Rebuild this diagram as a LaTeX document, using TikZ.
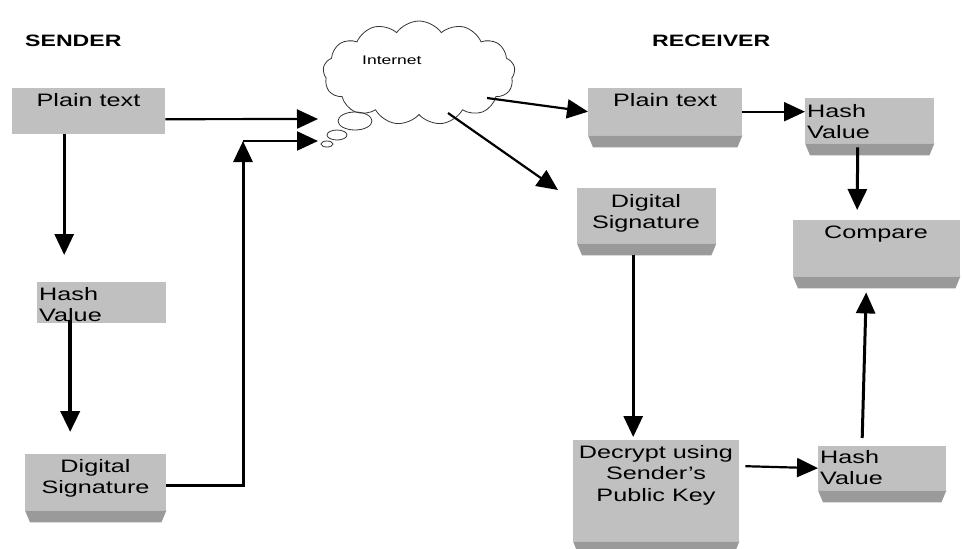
\documentclass[tikz,border=0pt]{standalone}
\usepackage{fontspec}
\setmainfont{Liberation Sans}[FakeStretch=1.4]
\usetikzlibrary{arrows.meta,shapes.symbols,shapes.geometric,calc}
\definecolor{boxgray}{HTML}{C0C0C0}
\definecolor{bevgray}{HTML}{9A9A9A}
\newcommand\mybevel[1]{\fill[bevgray] (#1.south west) -- (#1.south east) -- ([shift={(-5pt,-12pt)}]#1.south east) -- ([shift={(5pt,-12pt)}]#1.south west) -- cycle;}
\begin{document}
\begin{tikzpicture}[x=1pt,y=-1pt,
  box/.style={fill=boxgray, draw=none, inner sep=0pt, anchor=north west},
  lbl/.style={font=\fontsize{18}{21.5}\selectfont, align=center, inner sep=0pt, anchor=north},
  lbll/.style={font=\fontsize{18}{21.5}\selectfont, align=left, inner sep=0pt, anchor=north west},
  head/.style={font=\bfseries\fontsize{16.5}{20}\selectfont, inner sep=0pt, anchor=north west},
  arr/.style={-{Triangle[length=21pt,width=19pt]}, line width=2.2pt},
  varr/.style={arr, line width=3pt},
  bub/.style={ellipse, draw=black!80, line width=0.8pt, inner sep=0pt}]
\useasboundingbox (0,0) rectangle (962,549);

% headings
\node[head] (hs) at (25,35) {SENDER};
\node[head] (hr) at (652,35) {RECEIVER};

% cloud
\node[cloud, draw=black!80, line width=0.8pt, cloud puffs=13, cloud puff arc=110,
      aspect=1.85, minimum width=192pt, minimum height=104pt, inner sep=0pt] (net) at (419,73) {};
\node[font=\fontsize{12.5}{15}\selectfont, inner sep=0pt, anchor=north west] (tnet) at (362,56) {Internet};
\node[bub, minimum width=34pt, minimum height=18pt] (b1) at (355,121) {};
\node[bub, minimum width=20pt, minimum height=10pt] (b2) at (337,135) {};
\node[bub, minimum width=12pt, minimum height=6pt] (b3) at (327,144) {};
\coordinate (in1) at (318,119);
\coordinate (in2) at (318,141);
\coordinate (j) at (243,141);
\coordinate (c1) at (487,98);
\coordinate (c2) at (448,113);

% sender boxes
\node[box, minimum width=153pt, minimum height=46pt] (spt) at (12,88) {};
\node[lbl] (tspt) at (88.5,93) {Plain text};
\node[box, minimum width=129pt, minimum height=41pt] (shv) at (37,282) {};
\node[lbll] (tshv) at (39,287) {Hash\\Value};
\node[box, minimum width=141pt, minimum height=56pt] (sds) at (25,454) {};
\mybevel{sds}
\node[lbl] (tsds) at (95.5,459) {Digital\\Signature};

% receiver boxes
\node[box, minimum width=154pt, minimum height=47pt] (rpt) at (588,88) {};
\mybevel{rpt}
\node[lbl] (trpt) at (665,93) {Plain text};
\node[box, minimum width=129pt, minimum height=45pt] (rh1) at (805,98) {};
\mybevel{rh1}
\node[lbll] (trh1) at (807,104) {Hash\\Value};
\node[box, minimum width=139pt, minimum height=55pt] (rds) at (577,188) {};
\mybevel{rds}
\node[lbl] (trds) at (646,194) {Digital\\Signature};
\node[box, minimum width=167pt, minimum height=56pt] (cmp) at (793,220) {};
\mybevel{cmp}
\node[lbl] (tcmp) at (876,226) {Compare};
\node[box, minimum width=166pt, minimum height=101pt] (dec) at (573,440) {};
\mybevel{dec}
\node[lbl] (tdec) at (656,445) {Decrypt using\\Sender's\\Public Key};
\node[box, minimum width=128pt, minimum height=44pt] (rh2) at (818,446) {};
\mybevel{rh2}
\node[lbll] (trh2) at (820,450) {Hash\\Value};

% sender connectors
\draw[arr] ([yshift=-8pt]spt.east) -- (in1);
\draw[varr] ([xshift=-24.5pt]spt.south) -- ([xshift=-37.5pt,yshift=27pt]shv.north);
\draw[varr, line width=4pt] ([xshift=-31.5pt,yshift=3pt]shv.south) -- ([xshift=-25.5pt,yshift=22pt]sds.north);
\draw[varr] ([yshift=-3pt]sds.east) -| (j);
\draw[arr] (j) -- (in2);

% receiver connectors
\draw[arr] (c1) -- (rpt.west);
\draw[arr] (c2) -- ([shift={(-19pt,-2pt)}]rds.north west);
\draw[arr] (rpt.east) -- (rpt.east -| rh1.west);
\draw[varr] ([xshift=-12pt,yshift=-4pt]rh1.south) -- ([xshift=-19.5pt,yshift=10pt]cmp.north);
\draw[varr] ([xshift=-13.5pt,yshift=-12pt]rds.south) -- ([xshift=-23pt,yshift=3pt]dec.north);
\draw[arr] ([xshift=6pt,yshift=24.5pt]dec.east) -- ([yshift=22.5pt]dec.east -| rh2.west);
\draw[varr] ([xshift=-20pt,yshift=8pt]rh2.north) -- ([xshift=-10.5pt,yshift=-16pt]cmp.south);
\end{tikzpicture}
\end{document}
